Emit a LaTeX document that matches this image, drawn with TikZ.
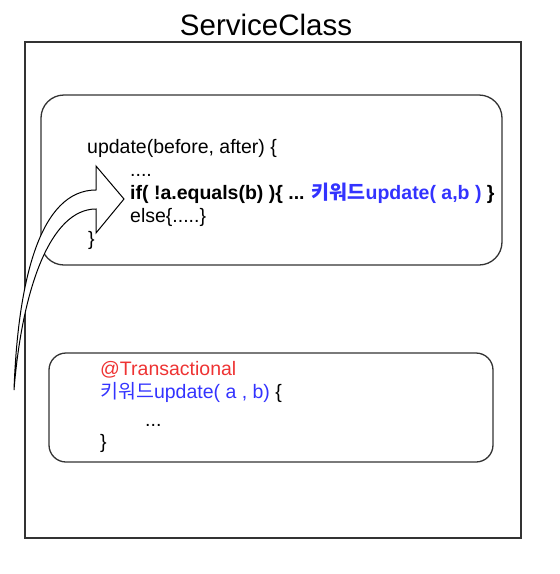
\documentclass[tikz,border=0pt]{standalone}
\usepackage{fontspec}
\setmainfont{Liberation Sans}
\newfontfamily\kr{Noto Sans CJK KR}
\definecolor{kwblue}{HTML}{3333FF}
\definecolor{annred}{HTML}{EE3333}
\definecolor{edge}{HTML}{333333}
\begin{document}
\begin{tikzpicture}[x=1pt,y=-1pt,
  frame/.style={draw=edge,line width=1.3pt},
  code/.style={anchor=base west,inner sep=0pt,font=\fontsize{19.5}{22}\selectfont},
  bigarrow/.style={draw=black,line width=1pt,fill=white,line join=miter}]
\useasboundingbox (0,0) rectangle (560,574);
% outer class box
\draw[frame] (25,42) rectangle (521,538);
\node[anchor=base,inner sep=0pt,font=\fontsize{29.5}{32}\selectfont] (title) at (266,35) {ServiceClass};
% upper method box
\draw[frame,rounded corners=23pt] (41,95) rectangle (502,265);
\node[code] (u1) at (87,153) {update(before, after) \{};
\node[code] (u2) at (130,176) {....};
\node[code] (u3) at (130,199) {\bfseries if( !a.equals(b) )\{ ... \textcolor{kwblue}{{\kr 키워드}update( a,b )} \}};
\node[code] (u4) at (130,222) {else\{.....\}};
\node[code] (u5) at (88,245) {\}};
% lower method box
\draw[frame,rounded corners=17pt] (49,353) rectangle (493,462);
\node[code,text=annred] (l1) at (100,375) {@Transactional};
\node[code,text=kwblue] (l2) at (100,398) {{\kr 키워드}update( a , b)~\textcolor{black}{\{}};
\node[code] (l3) at (145,426) {...};
\node[code] (l4) at (100,448) {\}};
% curved arrow
\coordinate (tail) at (14,390);
\coordinate (oend) at (96,190);
\coordinate (htop) at (96,166);
\coordinate (tip) at (124,199);
\coordinate (hbot) at (96,233);
\coordinate (iend) at (96,209);
\draw[bigarrow] (tail) .. controls (18,280) and (40,190) .. (oend)
  -- (htop) -- (tip) -- (hbot) -- (iend)
  .. controls (50,209) and (22,290) .. (tail) -- cycle;
\end{tikzpicture}
\end{document}
